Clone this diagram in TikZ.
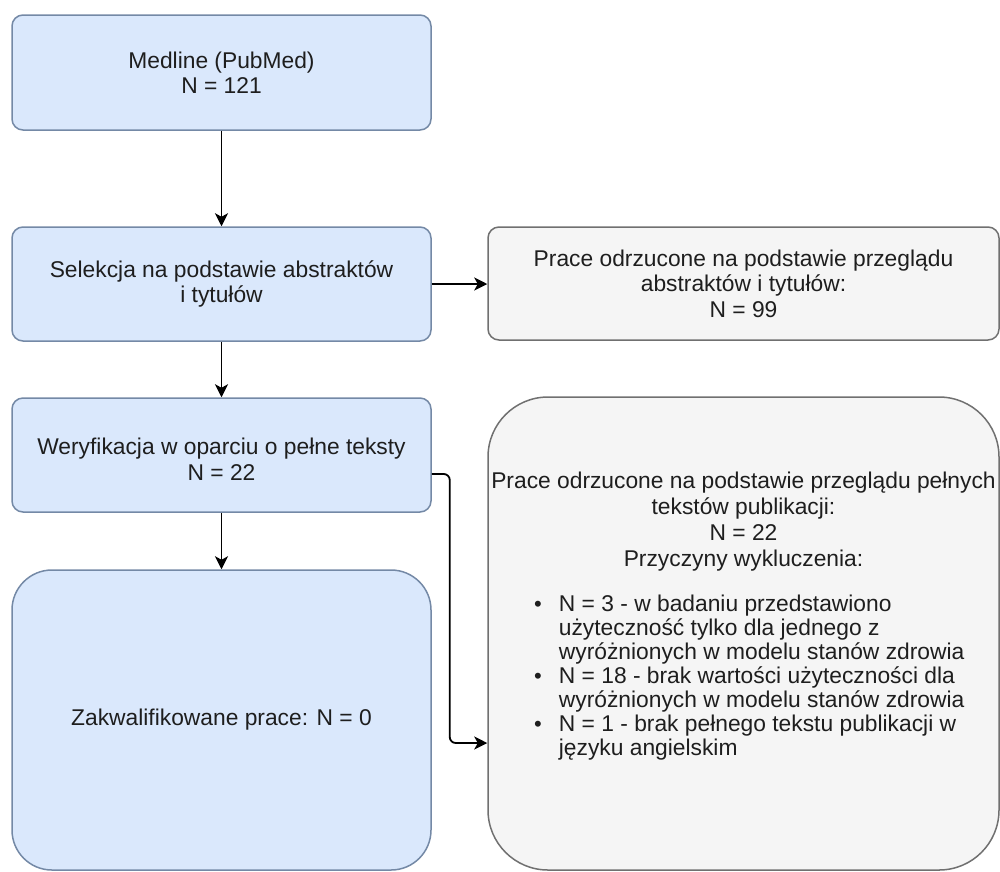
\documentclass[tikz,border=0pt]{standalone}
\usepackage{fontspec}
\setmainfont{Liberation Sans}
\usetikzlibrary{arrows.meta}
\definecolor{bluefill}{HTML}{DAE8FC}
\definecolor{bluestroke}{HTML}{7489A6}
\definecolor{grayfill}{HTML}{F5F5F5}
\definecolor{graystroke}{HTML}{707070}
\definecolor{txtcol}{HTML}{1E1E1E}
\begin{document}
\begin{tikzpicture}[x=1pt,y=-1pt,
  base/.style={line width=1.5pt, inner sep=0pt, align=center, text=txtcol,
    font=\fontsize{22.8}{25.5}\selectfont},
  bluebox/.style={base, draw=bluestroke, fill=bluefill, rounded corners=11pt},
  graybox/.style={base, draw=graystroke, fill=grayfill, rounded corners=11pt},
  txt/.style={inner sep=0pt, text=txtcol, font=\fontsize{22.8}{26}\selectfont},
  bul/.style={},
  arr/.style={line width=1.8pt, -{Stealth[length=13pt,width=13pt,inset=3.5pt]}}]
\useasboundingbox (0,0) rectangle (1000,871);
\node[bluebox, minimum width=419pt, minimum height=115pt] (b1) at (221.5,72.5)
  {Medline (PubMed)\\N = 121};
\node[bluebox, minimum width=419pt, minimum height=114pt] (b2) at (221.5,284)
  {Selekcja na podstawie abstraktów\\i tytułów};
\node[graybox, minimum width=511pt, minimum height=113pt] (b3) at (743.5,283.5)
  {Prace odrzucone na podstawie przeglądu\\abstraktów i tytułów:\\N = 99};
\node[bluebox, minimum width=419pt, minimum height=114pt, text height=50pt] (b4) at (221.5,455)
  {Weryfikacja w oparciu o pełne teksty\\N = 22};
\node[bluebox, rounded corners=40pt, minimum width=419pt, minimum height=300pt] (b5) at (221.5,720)
  {Zakwalifikowane prace: N = 0};
\node[graybox, rounded corners=60pt, minimum width=511pt, minimum height=473pt] (b6) at (743.5,633.5) {};
\node[txt, align=center] (b6t) at (743.5,522)
  {Prace odrzucone na podstawie przeglądu pełnych\\tekstów publikacji:\\N = 22\\Przyczyny wykluczenia:};
\node[txt, anchor=west] (b6l) at (534,679) {\fontsize{22.8}{24}\selectfont
  \begin{tabular}{@{}l@{\hspace{17pt}}l@{}}
  {\fontsize{22}{22}\selectfont\textbullet} & N = 3 - w badaniu przedstawiono\\
   & użyteczność tylko dla jednego z\\
   & wyróżnionych w modelu stanów zdrowia\\
  {\fontsize{22}{22}\selectfont\textbullet} & N = 18 - brak wartości użyteczności dla\\
   & wyróżnionych w modelu stanów zdrowia\\
  {\fontsize{22}{22}\selectfont\textbullet} & N = 1 - brak pełnego tekstu publikacji w\\
   & języku angielskim
  \end{tabular}};
\draw[arr] (b1) -- (b2);
\draw[arr] (b2.east) -- (b2.east -| b3.west);
\draw[arr] (b2) -- (b4);
\draw[arr] (b4) -- (b5);
\draw[arr, rounded corners=6pt] ([yshift=-19pt]b4.east) -- ++(18,0) |- ([yshift=-109.5pt]b6.west);
\end{tikzpicture}
\end{document}
